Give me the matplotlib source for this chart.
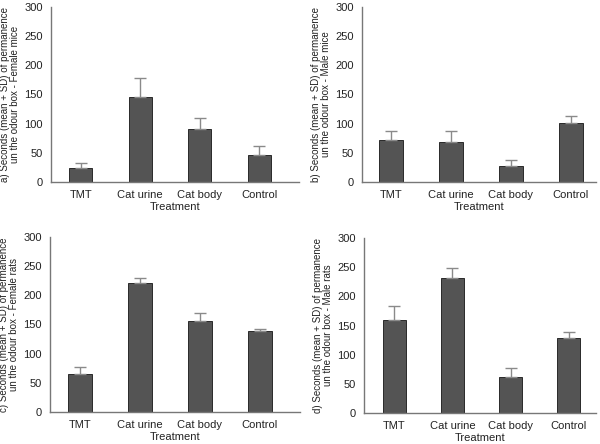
import matplotlib
matplotlib.use('Agg')
import matplotlib.pyplot as plt

plt.rcParams['font.family'] = ['Liberation Sans', 'DejaVu Sans']

treatments = ['TMT', 'Cat urine', 'Cat body', 'Control']

# mean and SD for each panel
female_mice_mean = [24, 145, 90, 47]
female_mice_sd = [9, 33, 19, 15]
male_mice_mean = [72, 69, 28, 101]
male_mice_sd = [16, 18, 9, 12]
female_rats_mean = [65, 222, 156, 139]
female_rats_sd = [12, 7, 14, 3]
male_rats_mean = [159, 232, 61, 129]
male_rats_sd = [25, 16, 17, 10]

ylabels = [
    'a) Seconds (mean + SD) of permanence\nun the odour box - Female mice',
    'b) Seconds (mean + SD) of permanence\nun the odour box - Male mice',
    'c) Seconds (mean + SD) of permanence\nun the odour box - Female rats',
    'd) Seconds (mean + SD) of permanence\nun the odour box - Male rats',
]

panels = [
    (female_mice_mean, female_mice_sd),
    (male_mice_mean, male_mice_sd),
    (female_rats_mean, female_rats_sd),
    (male_rats_mean, male_rats_sd),
]

# axes rectangles in figure pixels (left, top, right, bottom) and x limits
W, H = 600, 444
boxes = [
    (51, 7, 299, 182),
    (362, 7, 596, 182),
    (50, 237, 300, 412),
    (364, 238, 596, 413),
]
xlims = [(-0.5, 3.67), (-0.48, 3.42), (-0.5, 3.67), (-0.52, 3.47)]

fig = plt.figure(figsize=(6, 4.44), dpi=100)

for (means, sds), lab, (l, t, r, b), xl in zip(panels, ylabels, boxes, xlims):
    ax = fig.add_axes([l / W, 1 - b / H, (r - l) / W, (b - t) / H])
    x = range(len(treatments))
    ax.bar(x, means, width=0.39, color='#545454', edgecolor='#2a2a2a', linewidth=0.7,
           yerr=[[0] * len(sds), sds], error_kw=dict(ecolor='#8a8a8a', elinewidth=1.0, capsize=4, capthick=1.0))
    ax.set_xlim(*xl)
    ax.set_ylim(0, 300)
    ax.set_yticks(range(0, 301, 50))
    ax.set_xticks(list(x))
    ax.set_xticklabels(treatments)
    ax.tick_params(length=0, labelsize=8, colors='#222222', pad=6)
    ax.set_xlabel('Treatment', fontsize=8, labelpad=1, color='#222222')
    ax.set_ylabel(lab, fontsize=7, color='#222222', labelpad=3, linespacing=1.05)
    for s in ['top', 'right']:
        ax.spines[s].set_visible(False)
    for s in ['left', 'bottom']:
        ax.spines[s].set_color('#777777')
        ax.spines[s].set_linewidth(1.0)

plt.savefig('out.png', dpi=100)
